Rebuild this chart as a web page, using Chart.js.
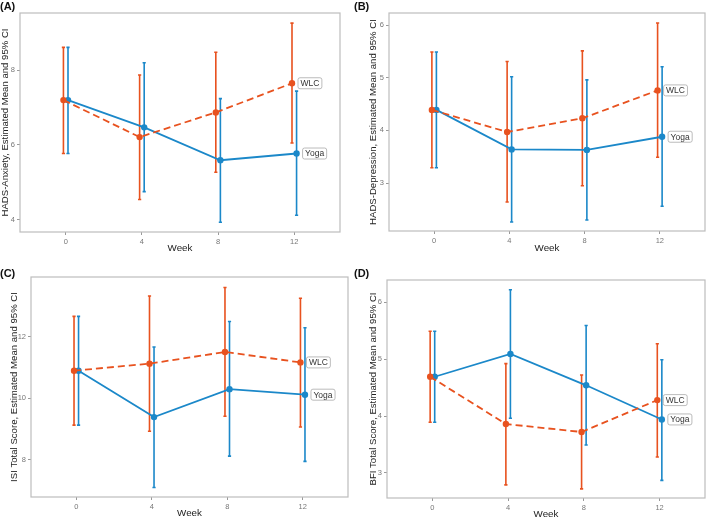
<!DOCTYPE html>
<html>
<head>
<meta charset="utf-8">
<script src="https://cdn.jsdelivr.net/npm/chart.js@4.4.1/dist/chart.umd.min.js"></script>
<style>
body { margin: 0; width: 709px; height: 518px; overflow: hidden; background: #fff; position: relative; font-family: "Liberation Sans", Arial, sans-serif; }
canvas { position: absolute; }
.tag { position: absolute; font-weight: bold; font-size: 11px; color: #111; }
</style>
</head>
<body>
<canvas id="cA" width="354" height="259" style="left:0;top:0"></canvas>
<canvas id="cB" width="355" height="259" style="left:354px;top:0"></canvas>
<canvas id="cC" width="354" height="259" style="left:0;top:259px"></canvas>
<canvas id="cD" width="355" height="259" style="left:354px;top:259px"></canvas>
<div class="tag" style="left:0;top:0">(A)</div>
<div class="tag" style="left:354px;top:0">(B)</div>
<div class="tag" style="left:0;top:267px">(C)</div>
<div class="tag" style="left:354px;top:267px">(D)</div>
<script>
const weeks = [0, 4, 8, 12];

// (A) HADS-Anxiety
const anxWlcMean = [7.2, 6.21, 6.87, 7.65];
const anxWlcLow = [5.77, 4.54, 5.27, 6.05];
const anxWlcHigh = [8.61, 7.87, 8.48, 9.26];
const anxYogaMean = [7.2, 6.47, 5.59, 5.77];
const anxYogaLow = [5.77, 4.75, 3.93, 4.12];
const anxYogaHigh = [8.61, 8.2, 7.24, 7.44];
const anxTicks = [4, 6, 8];

// (B) HADS-Depression
const depWlcMean = [4.39, 3.97, 4.23, 4.76];
const depWlcLow = [3.29, 2.64, 2.95, 3.49];
const depWlcHigh = [5.49, 5.31, 5.51, 6.04];
const depYogaMean = [4.39, 3.64, 3.63, 3.88];
const depYogaLow = [3.29, 2.26, 2.3, 2.56];
const depYogaHigh = [5.49, 5.02, 4.96, 5.21];
const depTicks = [3, 4, 5, 6];

// (C) ISI total
const isiWlcMean = [10.9, 11.13, 11.51, 11.17];
const isiWlcLow = [9.13, 8.93, 9.42, 9.07];
const isiWlcHigh = [12.67, 13.33, 13.61, 13.26];
const isiYogaMean = [10.9, 9.39, 10.3, 10.12];
const isiYogaLow = [9.13, 7.1, 8.12, 7.95];
const isiYogaHigh = [12.67, 11.67, 12.5, 12.3];
const isiTicks = [8, 10, 12];

// (D) BFI total
const bfiWlcMean = [4.69, 3.86, 3.72, 4.28];
const bfiWlcLow = [3.89, 2.79, 2.72, 3.28];
const bfiWlcHigh = [5.49, 4.92, 4.72, 5.27];
const bfiYogaMean = [4.69, 5.09, 4.54, 3.94];
const bfiYogaLow = [3.89, 3.96, 3.49, 2.87];
const bfiYogaHigh = [5.49, 6.22, 5.59, 4.99];
const bfiTicks = [3, 4, 5, 6];

const orange = '#E8521F';
const blue = '#1B88C9';

const panelPlugin = {
  id: 'panel',
  beforeDatasetsDraw(chart) {
    const ctx = chart.ctx, xs = chart.scales.x, ys = chart.scales.y;
    ctx.save();
    chart.data.datasets.forEach(ds => {
      ctx.strokeStyle = ds.borderColor;
      ctx.lineWidth = 1.6;
      ctx.setLineDash([]);
      weeks.forEach((w, i) => {
        const x = xs.getPixelForValue(w + ds.offset);
        const y1 = ys.getPixelForValue(ds.low[i]);
        const y2 = ys.getPixelForValue(ds.high[i]);
        ctx.beginPath();
        ctx.moveTo(x, y1); ctx.lineTo(x, y2);
        ctx.moveTo(x - 1.6, y1); ctx.lineTo(x + 1.6, y1);
        ctx.moveTo(x - 1.6, y2); ctx.lineTo(x + 1.6, y2);
        ctx.stroke();
      });
    });
    ctx.restore();
  },
  afterDatasetsDraw(chart) {
    const ctx = chart.ctx;
    ctx.save();
    ctx.font = '8.5px "Liberation Sans", Arial, sans-serif';
    ctx.textBaseline = 'middle';
    chart.data.datasets.forEach((ds, k) => {
      const pt = chart.getDatasetMeta(k).data[weeks.length - 1];
      const w = ctx.measureText(ds.label).width + 5;
      const x = pt.x + 6, y = pt.y;
      ctx.fillStyle = '#fff';
      ctx.strokeStyle = '#aaa';
      ctx.lineWidth = 0.8;
      ctx.beginPath();
      ctx.roundRect(x, y - 5.5, w, 11, 2);
      ctx.fill(); ctx.stroke();
      ctx.fillStyle = '#333';
      ctx.fillText(ds.label, x + 2.5, y + 0.5);
    });
    const a = chart.chartArea;
    ctx.strokeStyle = '#bdbdbd';
    ctx.lineWidth = 1.2;
    ctx.strokeRect(a.left, a.top, a.right - a.left, a.bottom - a.top);
    ctx.restore();
  }
};

function makePanel(id, p) {
  const pts = (means, off) => weeks.map((w, i) => ({ x: w + off, y: means[i] }));
  const series = (label, color, mean, low, high, off, dash) => ({
    label, offset: off, low, high,
    data: pts(mean, off),
    showLine: true,
    borderColor: color, backgroundColor: color,
    borderWidth: 1.8, borderDash: dash,
    pointRadius: 3.2, pointBorderWidth: 0
  });
  new Chart(document.getElementById(id), {
    type: 'scatter',
    data: {
      datasets: [
        series('WLC', orange, p.wlc[0], p.wlc[1], p.wlc[2], -0.12, [7, 4]),
        series('Yoga', blue, p.yoga[0], p.yoga[1], p.yoga[2], 0.12, [])
      ]
    },
    options: {
      responsive: false,
      animation: false,
      layout: { padding: { top: p.padTop, right: p.padRight, left: 0, bottom: 0 } },
      plugins: { legend: { display: false }, tooltip: { enabled: false } },
      scales: {
        x: {
          type: 'linear', min: -2.4, max: 14.4,
          afterBuildTicks: ax => { ax.ticks = weeks.map(v => ({ value: v })); },
          afterFit: ax => { ax.height = p.xH; },
          grid: { drawOnChartArea: false, drawTicks: true, tickLength: 3, color: '#999' },
          border: { display: false },
          ticks: { color: '#777', font: { size: 7.5 }, padding: 2 },
          title: { display: true, text: 'Week', color: '#222', font: { size: 9.8 }, padding: { top: 0, bottom: p.xTitlePad } }
        },
        y: {
          min: p.min, max: p.max,
          afterBuildTicks: ax => { ax.ticks = p.ticks.map(v => ({ value: v })); },
          afterFit: ax => { ax.width = p.yW; },
          grid: { drawOnChartArea: false, drawTicks: true, tickLength: 3, color: '#999' },
          border: { display: false },
          ticks: { color: '#777', font: { size: 7.5 }, padding: 2 },
          title: { display: true, text: p.title, color: '#222', font: { size: 9.6 }, padding: { top: p.yTitlePad, bottom: 0 } }
        }
      }
    },
    plugins: [panelPlugin]
  });
}

Chart.defaults.font.family = '"Liberation Sans", Arial, sans-serif';

makePanel('cA', {
  title: 'HADS-Anxiety, Estimated Mean and 95% CI',
  wlc: [anxWlcMean, anxWlcLow, anxWlcHigh], yoga: [anxYogaMean, anxYogaLow, anxYogaHigh],
  ticks: anxTicks, min: 3.67, max: 9.53,
  padTop: 13, padRight: 14, yW: 20, xH: 27, xTitlePad: 5, yTitlePad: 0
});
makePanel('cB', {
  title: 'HADS-Depression, Estimated Mean and 95% CI',
  wlc: [depWlcMean, depWlcLow, depWlcHigh], yoga: [depYogaMean, depYogaLow, depYogaHigh],
  ticks: depTicks, min: 2.09, max: 6.23,
  padTop: 13, padRight: 1, yW: 35, xH: 28, xTitlePad: 5, yTitlePad: 14
});
makePanel('cC', {
  title: 'ISI Total Score, Estimated Mean and 95% CI',
  wlc: [isiWlcMean, isiWlcLow, isiWlcHigh], yoga: [isiYogaMean, isiYogaLow, isiYogaHigh],
  ticks: isiTicks, min: 6.79, max: 13.95,
  padTop: 18, padRight: 6, yW: 31, xH: 21, xTitlePad: -1, yTitlePad: 9
});
makePanel('cD', {
  title: 'BFI Total Score, Estimated Mean and 95% CI',
  wlc: [bfiWlcMean, bfiWlcLow, bfiWlcHigh], yoga: [bfiYogaMean, bfiYogaLow, bfiYogaHigh],
  ticks: bfiTicks, min: 2.56, max: 6.39,
  padTop: 21, padRight: 1, yW: 33, xH: 20, xTitlePad: -2, yTitlePad: 14
});
</script>
</body>
</html>
